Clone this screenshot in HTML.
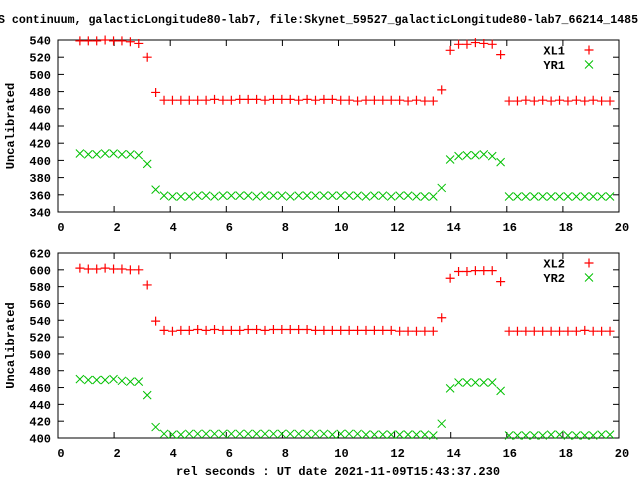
<!DOCTYPE html>
<html><head><meta charset="utf-8"><style>
body{margin:0;background:#fff;width:640px;height:480px;overflow:hidden}
svg text{font-family:"Liberation Mono",monospace;font-weight:bold;fill:#000}
</style></head><body>
<svg id="chart" width="640" height="480" xmlns="http://www.w3.org/2000/svg">
<text x="-2" y="23" font-size="11.6">S continuum, galacticLongitude80-lab7, file:Skynet_59527_galacticLongitude80-lab7_66214_1485</text>
<text x="338" y="475" font-size="12" text-anchor="middle">rel seconds : UT date 2021-11-09T15:43:37.230</text>
</svg>
<script>
const xStart = 0.78, xStep = 0.3;
const xl1 = [539,539,539,540,539,539,538,536,520,479,
 470,470,470,470,470,470,471,470,470,471,471,471,470,471,471,471,470,471,470,471,471,470,470,469,470,470,470,470,470,469,470,469,469,
 482,528,535,535,537,536,535,523,469,469,470,469,470,469,470,469,470,469,470,469,469];
const yr1 = [408,407,407,408,408,407,407,406,396,366,
 359,358,358,358,359,359,358,359,359,359,359,358,359,359,359,358,359,359,359,359,359,359,359,359,358,359,359,358,359,359,358,358,358,
 368,401,405,406,406,407,405,398,358,358,358,358,358,358,358,358,358,358,358,358,358];
const xl2 = [602,601,601,602,601,601,600,600,582,539,
 528,527,528,528,529,528,529,528,528,528,529,529,528,529,529,529,529,529,528,528,528,528,528,528,528,528,528,528,527,527,527,527,527,
 543,590,598,598,599,599,599,586,527,527,527,527,527,527,527,527,527,528,527,527,527];
const yr2 = [470,469,469,469,470,468,467,467,451,413,
 405,404,404,405,405,405,405,405,405,405,405,405,405,405,405,405,405,405,405,405,404,405,405,405,404,404,404,404,404,404,404,404,403,
 417,459,466,466,466,466,466,456,403,403,403,403,403,404,404,403,403,403,403,404,404];
const xTicks = [0,2,4,6,8,10,12,14,16,18,20];
const yTicks1 = [340,360,380,400,420,440,460,480,500,520,540];
const yTicks2 = [400,420,440,460,480,500,520,540,560,580,600,620];
const legend1 = ["XL1","YR1"];
const legend2 = ["XL2","YR2"];

const NS="http://www.w3.org/2000/svg";
const svg=document.getElementById('chart');
function mk(tag,attrs,parent){const e=document.createElementNS(NS,tag);for(const k in attrs)e.setAttribute(k,attrs[k]);(parent||svg).appendChild(e);return e;}
const L=58,R=619;
function panel(name,top,bot,yMin,yMax,yTicks,s1,s2,leg){
  const g=mk('g',{});
  
  
  const X=v=>L+(v-xTicks[0])/(xTicks[xTicks.length-1]-xTicks[0])*(R-L);
  const Y=v=>bot-(v-yMin)/(yMax-yMin)*(bot-top);
  const fr=mk('rect',{x:L,y:top,width:R-L,height:bot-top,fill:'none',stroke:'#000','stroke-width':1},g);
  
  
  xTicks.forEach(t=>{const x=X(t);
    mk('line',{x1:x,x2:x,y1:bot,y2:bot-6,stroke:'#000'},g);
    mk('line',{x1:x,x2:x,y1:top,y2:top+6,stroke:'#000'},g);
    const tx=mk('text',{x:x+3,y:bot+19,'font-size':12,'text-anchor':'middle'},g);tx.textContent=t;
    
    
  });
  yTicks.forEach(t=>{const y=Y(t);
    mk('line',{x1:L,x2:L+6,y1:y,y2:y,stroke:'#000'},g);
    mk('line',{x1:R,x2:R-6,y1:y,y2:y,stroke:'#000'},g);
    const tx=mk('text',{x:L-7,y:y+4.5,'font-size':12,'text-anchor':'end'},g);tx.textContent=t;
    
    
  });
  const yl=mk('text',{x:14,y:(top+bot)/2,'font-size':12,'text-anchor':'middle',transform:`rotate(-90 14 ${(top+bot)/2})`},g);
  yl.textContent='Uncalibrated';
  
  
  const plus=(x,y,p)=>{mk('path',{d:`M${x-4.5} ${y}H${x+4.5}M${x} ${y-4.5}V${y+4.5}`,stroke:'#ff0000','stroke-width':1.2,fill:'none'},p);};
  const cross=(x,y,p)=>{mk('path',{d:`M${x-4} ${y-4}L${x+4} ${y+4}M${x-4} ${y+4}L${x+4} ${y-4}`,stroke:'#00c000','stroke-width':1,fill:'none'},p);};
  const ga=mk('g',{},g);
  const gb=mk('g',{},g);
  s1.forEach((v,i)=>plus(X(xStart+xStep*i),Y(v),ga));
  s2.forEach((v,i)=>cross(X(xStart+xStep*i),Y(v),gb));
  [0,1].forEach(k=>{const y=top+10+k*14.5;
    const t=mk('text',{x:565,y:y+4.5,'font-size':12,'text-anchor':'end'},g);t.textContent=leg[k];
    
    
    (k?cross:plus)(589,y,g);
  });
}
panel('top',40,212,340,540,yTicks1,xl1,yr1,legend1);
panel('bottom',253,438,400,620,yTicks2,xl2,yr2,legend2);
</script>
</body></html>
